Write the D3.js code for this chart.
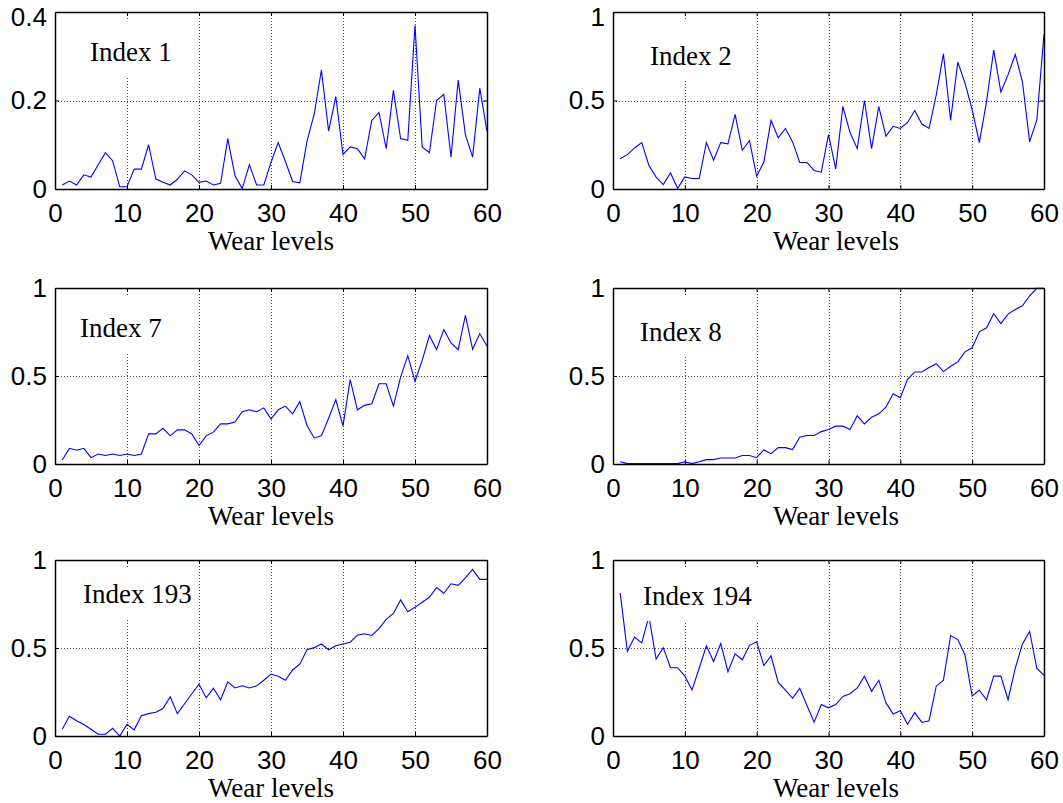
<!DOCTYPE html>
<html><head><meta charset="utf-8">
<script src="https://cdn.jsdelivr.net/npm/d3@7"></script>
<style>body{margin:0;background:#fff}</style>
</head><body>
<svg id="chart" width="1063" height="803"></svg>
<script>
const wearLevels = [1,2,3,4,5,6,7,8,9,10,11,12,13,14,15,16,17,18,19,20,21,22,23,24,25,26,27,28,29,30,
  31,32,33,34,35,36,37,38,39,40,41,42,43,44,45,46,47,48,49,50,51,52,53,54,55,56,57,58,59,60];
const xTicks = [0,10,20,30,40,50,60];
const yTicksSmall = [0,0.2,0.4];
const yTicksUnit = [0,0.5,1];
const panelTitles = ["Index 1","Index 2","Index 7","Index 8","Index 193","Index 194"];
const xTitle = "Wear levels";

const index1 = [0.009,0.018,0.009,0.032,0.027,0.055,0.082,0.064,0.005,0.005,
  0.045,0.045,0.100,0.023,0.015,0.009,0.022,0.041,0.032,0.015,
  0.018,0.009,0.013,0.114,0.030,0.001,0.055,0.009,0.009,0.060,
  0.105,0.062,0.017,0.014,0.108,0.169,0.269,0.131,0.209,0.078,
  0.095,0.091,0.068,0.155,0.173,0.091,0.223,0.114,0.110,0.370,
  0.095,0.082,0.200,0.214,0.072,0.246,0.123,0.072,0.228,0.130];
const index2 = [0.171,0.194,0.232,0.262,0.133,0.067,0.025,0.091,0.004,0.068,
  0.059,0.059,0.262,0.162,0.262,0.255,0.422,0.219,0.274,0.072,
  0.152,0.388,0.289,0.342,0.266,0.150,0.150,0.105,0.095,0.308,
  0.114,0.466,0.319,0.228,0.500,0.228,0.466,0.298,0.354,0.342,
  0.376,0.443,0.367,0.342,0.532,0.764,0.388,0.717,0.599,0.447,
  0.262,0.494,0.785,0.548,0.646,0.760,0.605,0.266,0.390,0.875];
const index7 = [0.023,0.089,0.078,0.089,0.036,0.057,0.048,0.057,0.048,0.057,
  0.048,0.057,0.171,0.171,0.203,0.160,0.194,0.194,0.171,0.105,
  0.160,0.181,0.228,0.228,0.238,0.297,0.308,0.297,0.319,0.255,
  0.308,0.329,0.285,0.354,0.219,0.148,0.160,0.260,0.365,0.217,
  0.479,0.308,0.333,0.342,0.456,0.456,0.329,0.494,0.616,0.470,
  0.589,0.730,0.650,0.764,0.688,0.650,0.844,0.652,0.741,0.669];
const index8 = [0.013,0.002,0.002,0.002,0.002,0.002,0.002,0.002,0.002,0.013,
  0.002,0.013,0.025,0.025,0.034,0.034,0.034,0.048,0.048,0.036,
  0.080,0.059,0.093,0.093,0.082,0.152,0.162,0.162,0.184,0.196,
  0.215,0.215,0.196,0.274,0.228,0.266,0.285,0.323,0.399,0.376,
  0.481,0.523,0.523,0.548,0.570,0.525,0.555,0.580,0.637,0.660,
  0.751,0.774,0.854,0.798,0.852,0.878,0.899,0.956,0.998,0.998];
const index193 = [0.038,0.112,0.087,0.065,0.038,0.010,0.010,0.044,0.000,0.067,
  0.035,0.115,0.127,0.135,0.156,0.223,0.127,0.183,0.240,0.294,
  0.217,0.271,0.206,0.308,0.273,0.285,0.273,0.285,0.317,0.352,
  0.340,0.317,0.375,0.408,0.490,0.502,0.523,0.490,0.513,0.523,
  0.533,0.573,0.581,0.571,0.610,0.663,0.696,0.773,0.706,0.731,
  0.760,0.788,0.844,0.811,0.865,0.856,0.898,0.946,0.890,0.890];
const index194 = [0.813,0.481,0.562,0.529,0.680,0.437,0.502,0.388,0.388,0.340,
  0.262,0.385,0.513,0.423,0.525,0.365,0.467,0.433,0.515,0.535,
  0.400,0.456,0.304,0.260,0.215,0.271,0.173,0.079,0.179,0.160,
  0.179,0.225,0.240,0.273,0.340,0.254,0.317,0.188,0.125,0.144,
  0.067,0.133,0.077,0.087,0.283,0.317,0.571,0.548,0.460,0.227,
  0.260,0.206,0.340,0.340,0.206,0.385,0.523,0.594,0.385,0.344];

const seriesList = [index1,index2,index7,index8,index193,index194];
const yMaxList = [0.4,1,1,1,1,1];
const yTickList = [yTicksSmall,yTicksUnit,yTicksUnit,yTicksUnit,yTicksUnit,yTicksUnit];

// layout
const colX = [[55,487],[613,1044]];
const rowY = [[12,189],[288,464],[560,736]];
const titleCenterX = [271,836];
const labelPos = [[90,61],[650,65],[80,337],[640,341],[83,603],[643,605]];

const svg = d3.select("#chart");
const fmt = d3.format("~g");

seriesList.forEach((vals,k) => {
  const col = k % 2, row = Math.floor(k / 2);
  const x = d3.scaleLinear().domain([0,60]).range(colX[col]);
  const y = d3.scaleLinear().domain([0,yMaxList[k]]).range([rowY[row][1], rowY[row][0]]);
  const g = svg.append("g");
  const top = rowY[row][0], bottom = rowY[row][1];

  // grid
  g.selectAll(".vg").data(xTicks.slice(1,-1)).enter().append("line")
    .attr("x1", d => Math.round(x(d)) + 0.5).attr("x2", d => Math.round(x(d)) + 0.5)
    .attr("y1", top).attr("y2", bottom)
    .attr("stroke", "#444").attr("stroke-width", 1).attr("stroke-dasharray", "1,2");
  g.selectAll(".hg").data(yTickList[k].slice(1,-1)).enter().append("line")
    .attr("x1", colX[col][0]).attr("x2", colX[col][1])
    .attr("y1", d => Math.round(y(d)) + 0.5).attr("y2", d => Math.round(y(d)) + 0.5)
    .attr("stroke", "#444").attr("stroke-width", 1).attr("stroke-dasharray", "1,2");

  // data line
  g.append("path").datum(vals)
    .attr("fill", "none").attr("stroke", "#0000ff").attr("stroke-width", 1.1)
    .attr("d", d3.line().x((d,i) => x(wearLevels[i])).y(d => y(d)));

  // label with white background box
  const lbl = g.append("text")
    .attr("x", labelPos[k][0]).attr("y", labelPos[k][1])
    .attr("font-family", "'Liberation Serif','Times New Roman',serif")
    .attr("font-size", 27).attr("fill", "#000")
    .text(panelTitles[k]);
  const bb = lbl.node().getBBox();
  g.insert("rect", "text")
    .attr("x", bb.x - 6).attr("width", bb.width + 12)
    .attr("y", top + 7).attr("height", labelPos[k][1] + 16 - (top + 7))
    .attr("fill", "#fff");

  // axes
  const styleAxis = sel => {
    sel.selectAll(".domain").attr("stroke", "#000").attr("stroke-width", 1.5);
    sel.selectAll(".tick line").attr("stroke", "#000").attr("stroke-width", 1);
    sel.selectAll("text").attr("font-family", "'Liberation Sans',Arial,sans-serif")
      .attr("font-size", 26).attr("fill", "#000");
  };
  g.append("g").attr("transform", `translate(0,${bottom})`)
    .call(d3.axisBottom(x).tickValues(xTicks).tickSizeInner(-4).tickSizeOuter(0).tickPadding(15).tickFormat(fmt))
    .call(styleAxis);
  g.append("g").attr("transform", `translate(0,${top})`)
    .call(d3.axisTop(x).tickValues(xTicks).tickSizeInner(-4).tickSizeOuter(0).tickFormat(""))
    .call(styleAxis);
  const yMaxTick = yTickList[k][yTickList[k].length - 1];
  g.append("g").attr("transform", `translate(${colX[col][0]},0)`)
    .call(d3.axisLeft(y).tickValues(yTickList[k]).tickSizeInner(-4).tickSizeOuter(0).tickPadding(8).tickFormat(fmt))
    .call(styleAxis)
    .selectAll(".tick text").filter(d => d === yMaxTick && row === 0).attr("dy", "0.5em");
  g.append("g").attr("transform", `translate(${colX[col][1]},0)`)
    .call(d3.axisRight(y).tickValues(yTickList[k]).tickSizeInner(-4).tickSizeOuter(0).tickFormat(""))
    .call(styleAxis);

  // x title
  g.append("text")
    .attr("x", titleCenterX[col]).attr("y", bottom + 61)
    .attr("text-anchor", "middle")
    .attr("font-family", "'Liberation Serif','Times New Roman',serif")
    .attr("font-size", 27).attr("fill", "#000")
    .text(xTitle);
});
</script>
</body></html>
